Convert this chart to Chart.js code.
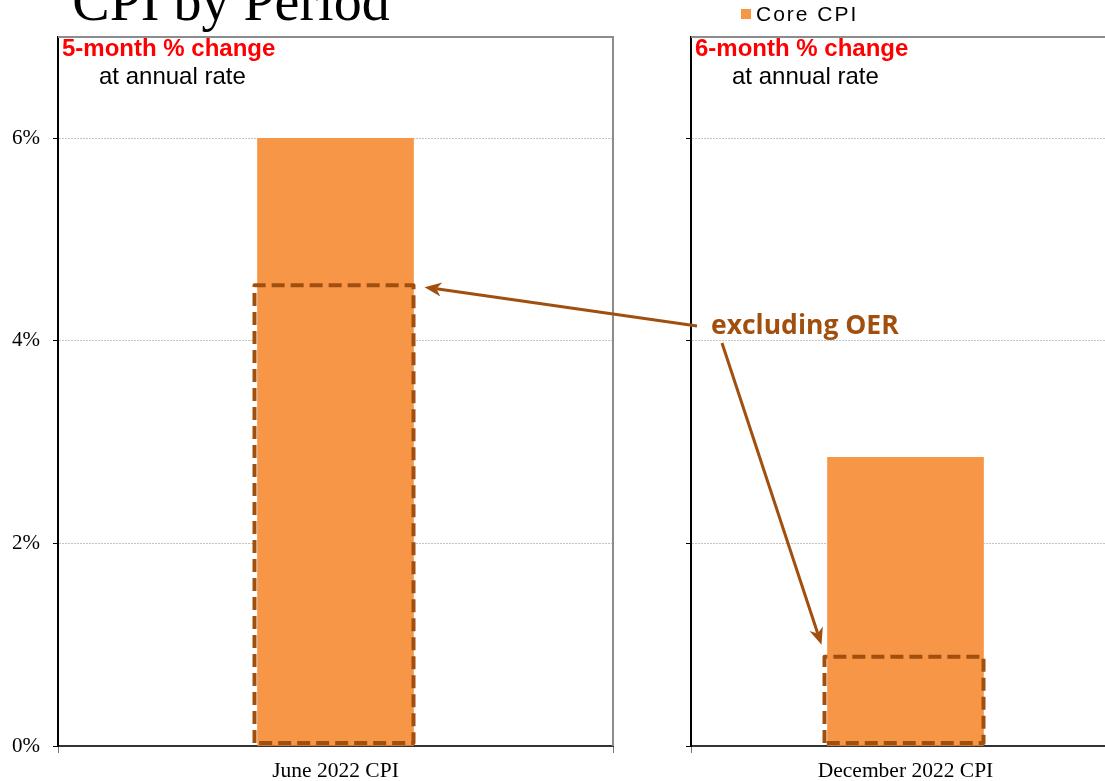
<!DOCTYPE html>
<html><head><meta charset="utf-8">
<script src="https://cdn.jsdelivr.net/npm/chart.js@4.4.0/dist/chart.umd.min.js"></script>
<style>
html,body{margin:0;padding:0;background:#fff;}
#wrap{position:relative;width:1105px;height:781px;overflow:hidden;background:#fff;}
#c1{position:absolute;left:0;top:0;}
#c2{position:absolute;left:640px;top:0;}
#ov{position:absolute;left:0;top:0;pointer-events:none;}
</style></head><body>
<div id="wrap">
<canvas id="c1" width="640" height="781"></canvas>
<canvas id="c2" width="490" height="781"></canvas>
<canvas id="ov" width="1105" height="781"></canvas>
</div>
<script>
// ---- data ----
const chartTitle = 'CPI by Period';
const seriesName = 'Core CPI';
const panelCategories = [['June 2022 CPI'], ['December 2022 CPI']];
const panelTitles = ['5-month % change', '6-month % change'];
const panelSubtitles = ['at annual rate', 'at annual rate'];
const coreCPI = [6.0, 2.85];          // Core CPI, % change at annual rate
const coreExOER = [4.55, 0.88];       // Core CPI excluding OER
const yTicks = [0, 2, 4, 6];
const yMin = 0, yMax = 7;
const annotationText = 'excluding OER';

// ---- styles ----
const ORANGE = '#F79646';
const BROWN = '#A04F0E';
const SERIF = '"Liberation Serif", "Times New Roman", serif';
const SANS = '"Liberation Sans", Arial, sans-serif';

function panelPlugin(idx) {
  return {
    id: 'panelDecor' + idx,
    afterDatasetsDraw(chart) {
      const ctx = chart.ctx;
      const bar = chart.getDatasetMeta(0).data[0];
      const ys = chart.scales.y;
      const top = ys.getPixelForValue(coreExOER[idx]);
      const base = ys.getPixelForValue(0) - 3;
      const left = bar.x - bar.width / 2 - 3;
      const right = bar.x + bar.width / 2;
      ctx.save();
      ctx.strokeStyle = BROWN;
      ctx.lineWidth = 4;
      ctx.setLineDash([13, 6]);
      ctx.lineJoin = 'round';
      ctx.beginPath();
      ctx.moveTo(left, base);
      ctx.lineTo(left, top);
      ctx.lineTo(right, top);
      ctx.lineTo(right, base);
      ctx.closePath();
      ctx.stroke();
      ctx.restore();
    },
    afterDraw(chart) {
      const ctx = chart.ctx;
      const a = chart.chartArea;
      ctx.save();
      ctx.strokeStyle = '#8c8c8c';
      ctx.lineWidth = 2;
      ctx.beginPath();
      ctx.moveTo(a.left, a.top);
      ctx.lineTo(a.right, a.top);
      ctx.lineTo(a.right, a.bottom);
      ctx.stroke();
      ctx.textBaseline = 'alphabetic';
      ctx.textAlign = 'left';
      ctx.fillStyle = '#ff0000';
      ctx.font = 'bold 24px ' + SANS;
      ctx.fillText(panelTitles[idx], a.left + 4, 56);
      ctx.fillStyle = '#000';
      ctx.font = '24px ' + SANS;
      ctx.fillText(panelSubtitles[idx], a.left + 41, 84);
      ctx.restore();
    }
  };
}

function makeChart(canvasId, idx, yAxisWidth, padRight) {
  return new Chart(document.getElementById(canvasId), {
    type: 'bar',
    data: {
      labels: panelCategories[idx],
      datasets: [{
        label: seriesName,
        data: [coreCPI[idx]],
        backgroundColor: ORANGE,
        borderWidth: 0,
        barThickness: 156
      }]
    },
    options: {
      responsive: false,
      animation: false,
      devicePixelRatio: 1,
      layout: { padding: { top: 37, right: padRight, left: 0, bottom: 0 } },
      plugins: { legend: { display: false }, tooltip: { enabled: false }, title: { display: false } },
      scales: {
        x: {
          offset: true,
          grid: { display: true, drawOnChartArea: false, offset: true, tickLength: 7, color: '#777', tickColor: '#777', lineWidth: 1 },
          border: { display: true, color: '#333', width: 2 },
          ticks: { color: '#000', font: { family: SERIF, size: 21.5 }, padding: 5, maxRotation: 0 },
          afterFit: s => { s.height = 35; }
        },
        y: {
          min: yMin, max: yMax,
          afterBuildTicks: s => { s.ticks = yTicks.map(v => ({ value: v })); },
          grid: { color: '#c4c4c4', lineWidth: 1, tickLength: 5, tickColor: '#000', tickWidth: 1 },
          border: { display: true, color: '#000', width: 2, dash: [2, 1] },
          ticks: { display: idx === 0, color: '#000', font: { family: SERIF, size: 21 }, padding: 13, callback: v => v + '%' },
          afterFit: s => { s.width = yAxisWidth; }
        }
      }
    },
    plugins: [panelPlugin(idx)]
  });
}

const chart1 = makeChart('c1', 0, 58, 27);
const chart2 = makeChart('c2', 1, 51, 10);

// ---- overlay: title, legend, annotation with arrows ----
function drawArrow(ctx, x1, y1, x2, y2) {
  const ang = Math.atan2(y2 - y1, x2 - x1);
  const hl = 17, hw = 7;
  const bx = x2 - hl * Math.cos(ang), by = y2 - hl * Math.sin(ang);
  ctx.beginPath();
  ctx.moveTo(x1, y1);
  ctx.lineTo(x2 - (hl - 5) * Math.cos(ang), y2 - (hl - 5) * Math.sin(ang));
  ctx.stroke();
  ctx.beginPath();
  ctx.moveTo(x2, y2);
  ctx.lineTo(bx + hw * Math.sin(ang), by - hw * Math.cos(ang));
  ctx.lineTo(x2 - (hl - 5) * Math.cos(ang), y2 - (hl - 5) * Math.sin(ang));
  ctx.lineTo(bx - hw * Math.sin(ang), by + hw * Math.cos(ang));
  ctx.closePath();
  ctx.fill();
}

function drawOverlay() {
  const ov = document.getElementById('ov');
  const ctx = ov.getContext('2d');
  ctx.clearRect(0, 0, ov.width, ov.height);
  const off2 = 640;

  // title
  ctx.fillStyle = '#000';
  ctx.font = '56px ' + SERIF;
  ctx.textAlign = 'center';
  ctx.textBaseline = 'alphabetic';
  ctx.fillText(chartTitle, 231, 20);

  // legend
  ctx.fillStyle = ORANGE;
  ctx.fillRect(741, 9, 10, 10);
  ctx.fillStyle = '#000';
  ctx.textAlign = 'left';
  ctx.font = '21px ' + SANS;
  try { ctx.letterSpacing = '2px'; } catch (e) {}
  ctx.fillText(seriesName, 756, 21);
  try { ctx.letterSpacing = '0px'; } catch (e) {}

  // annotation text
  ctx.fillStyle = BROWN;
  ctx.font = 'bold 26.5px "Open Sans", Lato, sans-serif';
  ctx.fillText(annotationText, 711, 334);

  // arrows (tips computed from the chart scales)
  const b1 = chart1.getDatasetMeta(0).data[0];
  const tip1x = b1.x + b1.width / 2 + 11;
  const tip1y = chart1.scales.y.getPixelForValue(coreExOER[0]) + 2;
  const b2 = chart2.getDatasetMeta(0).data[0];
  const tip2x = off2 + b2.x - b2.width / 2 - 6;
  const tip2y = chart2.scales.y.getPixelForValue(coreExOER[1]) - 12;
  ctx.strokeStyle = BROWN;
  ctx.fillStyle = BROWN;
  ctx.lineWidth = 3;
  drawArrow(ctx, 697, 326, tip1x, tip1y);
  drawArrow(ctx, 722, 343, tip2x, tip2y);
}
drawOverlay();
</script>
</body></html>
